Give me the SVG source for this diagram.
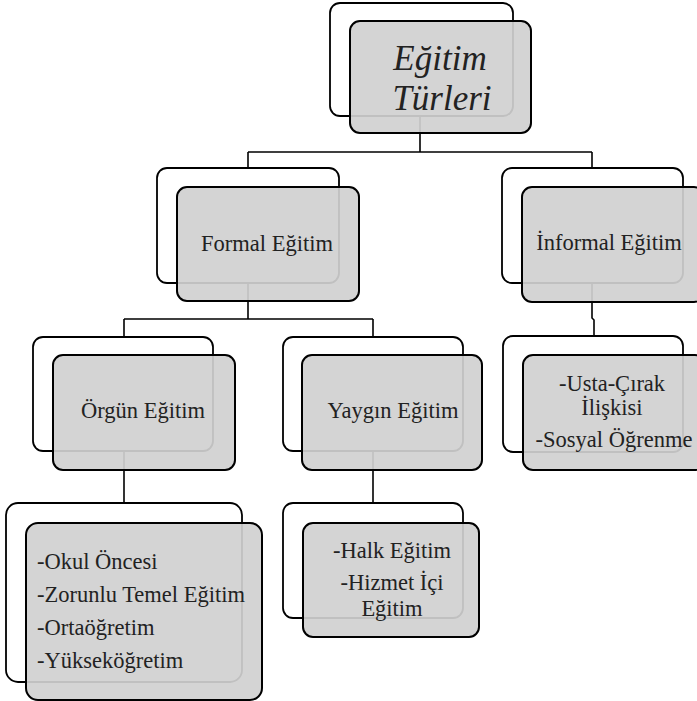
<svg xmlns="http://www.w3.org/2000/svg" width="697" height="701" viewBox="0 0 697 701">
<style>
.back{fill:#ffffff;stroke:#000;stroke-width:1.8}
.front{fill:#d0d0d0;fill-opacity:0.92;stroke:#000;stroke-width:2}
.conn{fill:none;stroke:#000;stroke-width:1.6}
.t{font-family:"Liberation Serif","Times New Roman",serif;font-size:22.5px;fill:#222}
.c{text-anchor:middle}
.title{font-family:"Liberation Serif","Times New Roman",serif;font-size:35px;font-style:italic;fill:#222;text-anchor:middle}
</style>
<rect width="697" height="701" fill="#fff"/>
<g id="connectors">
<path class="conn" d="M420,116 V152 M248,152 H592 M248,152 V168 M592,152 V168"/>
<path class="conn" d="M248,283 V319 M124,319 H373 M124,319 V337 M373,319 V337"/>
<path class="conn" d="M592,283 V318 L594,320 V336"/>
<path class="conn" d="M124,451 V503"/>
<path class="conn" d="M373,451 V503"/>
</g>
<g id="node-egitim-turleri">
<rect class="back" x="330" y="3" width="183" height="113" rx="10"/>
<rect class="front" x="350" y="21" width="181" height="112" rx="10"/>
<text class="title" x="440" y="70">Eğitim</text>
<text class="title" x="442" y="110">Türleri</text>
</g>
<g id="node-formal">
<rect class="back" x="157" y="168" width="182" height="115" rx="10"/>
<rect class="front" x="177" y="187" width="182" height="114" rx="10"/>
<text class="t c" x="267" y="251">Formal Eğitim</text>
</g>
<g id="node-informal">
<rect class="back" x="502" y="168" width="181" height="115" rx="10"/>
<rect class="front" x="522" y="187" width="182" height="115" rx="10"/>
<text class="t c" x="609" y="250">İnformal Eğitim</text>
</g>
<g id="node-orgun">
<rect class="back" x="33" y="337" width="180" height="114" rx="10"/>
<rect class="front" x="53" y="355" width="182" height="115" rx="10"/>
<text class="t c" x="143" y="418">Örgün Eğitim</text>
</g>
<g id="node-yaygin">
<rect class="back" x="283" y="337" width="180" height="114" rx="10"/>
<rect class="front" x="302" y="355" width="180" height="115" rx="10"/>
<text class="t c" x="393" y="418">Yaygın Eğitim</text>
</g>
<g id="node-informal-list">
<rect class="back" x="503" y="336" width="180" height="116" rx="10"/>
<rect class="front" x="523" y="355" width="182" height="115" rx="10"/>
<text class="t c" x="612" y="391">-Usta-Çırak</text>
<text class="t c" x="612" y="415">İlişkisi</text>
<text class="t c" x="614" y="447">-Sosyal Öğrenme</text>
</g>
<g id="node-orgun-list">
<rect class="back" x="6" y="503" width="236" height="179" rx="12"/>
<rect class="front" x="26" y="523" width="236" height="177" rx="12"/>
<text class="t" x="37" y="569">-Okul Öncesi</text>
<text class="t" x="37" y="602">-Zorunlu Temel Eğitim</text>
<text class="t" x="37" y="635">-Ortaöğretim</text>
<text class="t" x="37" y="668">-Yükseköğretim</text>
</g>
<g id="node-yaygin-list">
<rect class="back" x="283" y="503" width="180" height="115" rx="10"/>
<rect class="front" x="303" y="523" width="176" height="114" rx="10"/>
<text class="t c" x="392" y="558">-Halk Eğitim</text>
<text class="t c" x="392" y="590">-Hizmet İçi</text>
<text class="t c" x="392" y="616">Eğitim</text>
</g>
</svg>
